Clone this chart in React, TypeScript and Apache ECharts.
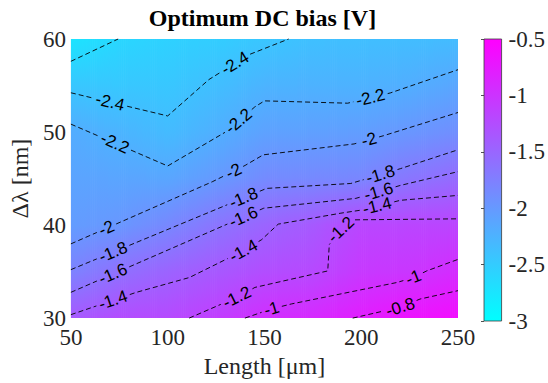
import React, { useEffect, useRef } from "react";
import * as echarts from "echarts";

// ---- grid of values (x: length [um], y: delta lambda [nm]) ----
const xGrid = [50, 75, 100, 125, 150, 175, 200, 225, 250];
const yGrid = [30, 35, 40, 45, 50, 55, 60];
const zRow30 = [-1.37, -1.25, -1.22, -1.109, -0.95, -0.9, -0.785, -0.68, -0.625];
const zRow35 = [-1.78, -1.6, -1.473, -1.366, -1.257, -1.21, -1.052, -1.024, -0.922];
const zRow40 = [-2.031, -1.98, -1.832, -1.648, -1.483, -1.375, -1.184, -1.181, -1.169];
const zRow45 = [-2.109, -2.114, -2.129, -2.007, -1.859, -1.839, -1.81, -1.653, -1.542];
const zRow50 = [-2.187, -2.264, -2.335, -2.221, -2.085, -2.072, -2.047, -1.977, -1.895];
const zRow55 = [-2.45, -2.457, -2.45, -2.367, -2.26, -2.245, -2.247, -2.203, -2.126];
const zRow60 = [-2.74, -2.6, -2.55, -2.51, -2.44, -2.38, -2.37, -2.355, -2.34];
const zGrid = [zRow30, zRow35, zRow40, zRow45, zRow50, zRow55, zRow60];

// ---- contour lines (data coordinates) ----
const levels = [-2.6, -2.4, -2.2, -2.0, -1.8, -1.6, -1.4, -1.2, -1.0, -0.8];
const cM26 = [[50, 57.6], [74.4, 60]];
const cM24 = [[50, 54.22], [100, 51.73], [121.3, 55.64], [141.8, 58.3], [162.5, 60]];
const cM22 = [[50, 50.85], [100, 46.35], [130.7, 50.1], [145, 52.7], [150, 53.35], [193, 53.1], [215, 54.2], [250, 56.7]];
const cM20 = [[50, 37.98], [123, 44.65], [140, 46.41], [149.4, 47.55], [196.3, 48.72], [211.6, 49.61], [250, 52.1]];
const cM18 = [[50, 35.21], [151.1, 43.94], [194.6, 44.47], [220.2, 46.06], [250, 48.09]];
const cM16 = [[50, 32.77], [149.6, 41.81], [197.2, 42.87], [220.2, 44.26], [250, 45.74]];
const cM14 = [[50, 30.37], [83.8, 32.77], [111.2, 34.36], [129.8, 36.28], [139.2, 37.23], [148.6, 38.44], [157.1, 40.1], [189.5, 41.28], [199.7, 41.6], [220.2, 42.66], [250, 43.19]];
const cM12 = [[111.1, 30], [135.8, 32.23], [145.1, 33.3], [182.7, 35.07], [183.5, 37.9], [188.6, 39.36], [195.5, 40.56], [250, 40.67]];
const cM10 = [[139.9, 30], [153.7, 30.99], [163.9, 31.52], [218.5, 33.83], [227, 34.36], [233.8, 35.07], [250, 36.31]];
const cM08 = [[195.6, 30], [220.2, 31.17], [230.4, 32.05], [250, 32.95]];
const contours = [cM26, cM24, cM22, cM20, cM18, cM16, cM14, cM12, cM10, cM08];
// x positions of inline labels on each line
const labelX = [[], [70.2, 134.8], [72.7, 136.6, 204.8], [68.4, 134.1, 204], [71.8, 139.2, 210], [71.8, 139.2, 209], [71.8, 139.2, 208.2], [135.8, 189.5], [153.7, 227], [220.2]];

// colorbar ticks
const cbMin = -3;
const cbMax = -0.5;
const cbStep = 0.5;

const N_STRIPS = 200;
const LABEL_FONT = 17;
const SERIF = '"Liberation Serif", "Times New Roman", serif';
const SANS = '"Liberation Sans", Arial, sans-serif';

function cool(v: number) {
  let t = (v - cbMin) / (cbMax - cbMin);
  t = Math.max(0, Math.min(1, t));
  return `rgb(${Math.round(255 * t)},${Math.round(255 * (1 - t))},255)`;
}

function interpRow(row: number[], x: number) {
  for (let k = 0; k < xGrid.length - 1; k++) {
    if (x <= xGrid[k + 1] || k === xGrid.length - 2) {
      const t = (x - xGrid[k]) / (xGrid[k + 1] - xGrid[k]);
      return row[k] + (row[k + 1] - row[k]) * t;
    }
  }
  return row[row.length - 1];
}

function fmtLevel(v: number) {
  return String(Math.round(v * 10) / 10);
}

function textWidth(s: string, size: number) {
  let w = 0;
  for (const ch of s) w += ch === "-" ? 0.333 : ch === "." ? 0.278 : 0.556;
  return w * size;
}

export default function App() {
  const ref = useRef<HTMLDivElement>(null);
  useEffect(() => {
    if (!ref.current) return;
    const chart = echarts.init(ref.current, undefined, { renderer: "svg" });
    const dxs = (xGrid[xGrid.length - 1] - xGrid[0]) / N_STRIPS;
    const yMin = yGrid[0];
    const yMax = yGrid[yGrid.length - 1];

    const fieldItem = (params: any, api: any) => {
      const i = api.value(0);
      const x0 = xGrid[0] + i * dxs;
      const x1 = x0 + dxs;
      const xc = x0 + dxs / 2;
      const p0 = api.coord([x0, yMax]);
      const p1 = api.coord([x1, yMin]);
      const stops = yGrid
        .map((y, r) => ({ offset: (yMax - y) / (yMax - yMin), color: cool(interpRow(zGrid[r], xc)) }))
        .sort((a, b) => a.offset - b.offset);
      const extra = i < N_STRIPS - 1 ? 0.7 : 0;
      return {
        type: "rect",
        shape: { x: p0[0], y: p0[1], width: p1[0] - p0[0] + extra, height: p1[1] - p0[1] },
        style: { fill: new echarts.graphic.LinearGradient(0, 0, 0, 1, stops) },
        silent: true,
      };
    };

    const contourItem = (params: any, api: any) => {
      const idx = api.value(0);
      const pts = contours[idx].map((p) => api.coord(p));
      const cum = [0];
      for (let k = 1; k < pts.length; k++) {
        cum.push(cum[k - 1] + Math.hypot(pts[k][0] - pts[k - 1][0], pts[k][1] - pts[k - 1][1]));
      }
      const total = cum[cum.length - 1];
      const pointAt = (s: number) => {
        s = Math.max(0, Math.min(total, s));
        for (let k = 0; k < pts.length - 1; k++) {
          if (s <= cum[k + 1] || k === pts.length - 2) {
            const seg = cum[k + 1] - cum[k] || 1;
            const u = (s - cum[k]) / seg;
            return [pts[k][0] + (pts[k + 1][0] - pts[k][0]) * u, pts[k][1] + (pts[k + 1][1] - pts[k][1]) * u];
          }
        }
        return pts[pts.length - 1];
      };
      const sub = (sa: number, sb: number) => {
        const out = [pointAt(sa)];
        for (let k = 0; k < pts.length; k++) if (cum[k] > sa && cum[k] < sb) out.push(pts[k]);
        out.push(pointAt(sb));
        return out;
      };
      const txt = fmtLevel(levels[idx]);
      const half = textWidth(txt, LABEL_FONT) / 2 + 3;
      const gaps: number[][] = [];
      const children: any[] = [];
      for (const lx of labelX[idx]) {
        const px = api.coord([lx, yMin])[0];
        let s0 = -1;
        for (let k = 0; k < pts.length - 1; k++) {
          const a = pts[k][0] - px;
          const b = pts[k + 1][0] - px;
          if (a * b <= 0 && pts[k + 1][0] !== pts[k][0]) {
            const u = (px - pts[k][0]) / (pts[k + 1][0] - pts[k][0]);
            s0 = cum[k] + u * (cum[k + 1] - cum[k]);
            break;
          }
        }
        if (s0 < 0) continue;
        const A = pointAt(s0 - half);
        const B = pointAt(s0 + half);
        let ddx = B[0] - A[0];
        let ddy = B[1] - A[1];
        if (ddx < 0) {
          ddx = -ddx;
          ddy = -ddy;
        }
        const P = pointAt(s0);
        gaps.push([s0 - half, s0 + half]);
        children.push({
          type: "text",
          x: P[0],
          y: P[1],
          rotation: -Math.atan2(ddy, ddx),
          style: {
            text: txt,
            fill: "#000",
            font: `${LABEL_FONT}px ${SANS}`,
            textAlign: "center",
            textVerticalAlign: "middle",
            align: "center",
            verticalAlign: "middle",
          },
          silent: true,
        });
      }
      gaps.sort((a, b) => a[0] - b[0]);
      let s = 0;
      const pieces: number[][][] = [];
      for (const g of gaps) {
        if (g[0] > s) pieces.push(sub(s, g[0]));
        s = Math.max(s, g[1]);
      }
      if (s < total) pieces.push(sub(s, total));
      for (const pc of pieces) {
        children.unshift({
          type: "polyline",
          shape: { points: pc },
          style: { stroke: "#000", lineWidth: 0.9, lineDash: [5, 3], fill: "none" },
          silent: true,
        });
      }
      return { type: "group", children };
    };

    const colorbarItem = (params: any, api: any) => {
      const p0 = api.coord([0, cbMax]);
      const p1 = api.coord([1, cbMin]);
      return {
        type: "rect",
        shape: { x: p0[0], y: p0[1], width: p1[0] - p0[0], height: p1[1] - p0[1] },
        style: {
          fill: new echarts.graphic.LinearGradient(0, 0, 0, 1, [
            { offset: 0, color: cool(cbMax) },
            { offset: 1, color: cool(cbMin) },
          ]),
          stroke: "#3c3c3c",
          lineWidth: 0.8,
        },
        silent: true,
      };
    };

    const axisText = { fontFamily: SERIF, fontSize: 23, color: "#262626" };

    chart.setOption({
      animation: false,
      graphic: [
        {
          type: "text",
          x: 262.5,
          y: 18,
          style: {
            text: "Optimum DC bias [V]",
            font: `bold 24px ${SERIF}`,
            fill: "#000",
            textAlign: "center",
            textVerticalAlign: "middle",
            align: "center",
            verticalAlign: "middle",
          },
        },
      ],
      grid: [
        { left: 67, top: 39, width: 391, height: 282 },
        { left: 484, top: 39, width: 19, height: 282 },
      ],
      xAxis: [
        {
          type: "value",
          gridIndex: 0,
          min: 50,
          max: 250,
          interval: 50,
          name: "Length [μm]",
          nameLocation: "middle",
          nameGap: 33,
          nameTextStyle: { fontFamily: SERIF, fontSize: 24, color: "#262626" },
          axisLine: { show: false },
          axisTick: { show: false },
          splitLine: { show: false },
          axisLabel: { ...axisText, margin: 8 },
        },
        { type: "value", gridIndex: 1, min: 0, max: 1, show: false },
      ],
      yAxis: [
        {
          type: "value",
          gridIndex: 0,
          min: 30,
          max: 60,
          interval: 10,
          name: "Δλ [nm]",
          nameLocation: "middle",
          nameGap: 28,
          nameRotate: 90,
          nameTextStyle: { fontFamily: SERIF, fontSize: 24, color: "#262626" },
          axisLine: { show: false },
          axisTick: { show: false },
          splitLine: { show: false },
          axisLabel: { ...axisText, margin: 5 },
        },
        {
          type: "value",
          gridIndex: 1,
          min: cbMin,
          max: cbMax,
          interval: cbStep,
          position: "right",
          axisLine: { show: false },
          axisTick: { show: true, inside: true, length: 3, lineStyle: { color: "#262626", width: 0.8 } },
          splitLine: { show: false },
          axisLabel: { ...axisText, margin: 7 },
        },
      ],
      series: [
        {
          type: "custom",
          xAxisIndex: 0,
          yAxisIndex: 0,
          silent: true,
          renderItem: fieldItem,
          data: Array.from({ length: N_STRIPS }, (_, i) => [i]),
          z: 1,
        },
        {
          type: "custom",
          xAxisIndex: 0,
          yAxisIndex: 0,
          silent: true,
          renderItem: contourItem,
          data: contours.map((_, i) => [i]),
          z: 2,
        },
        {
          type: "custom",
          xAxisIndex: 1,
          yAxisIndex: 1,
          silent: true,
          renderItem: colorbarItem,
          data: [[0]],
          z: 1,
        },
      ],
    });
    return () => chart.dispose();
  }, []);
  return <div ref={ref} style={{ position: "fixed", left: 0, top: 0, width: 548, height: 383, background: "#fff" }} />;
}
